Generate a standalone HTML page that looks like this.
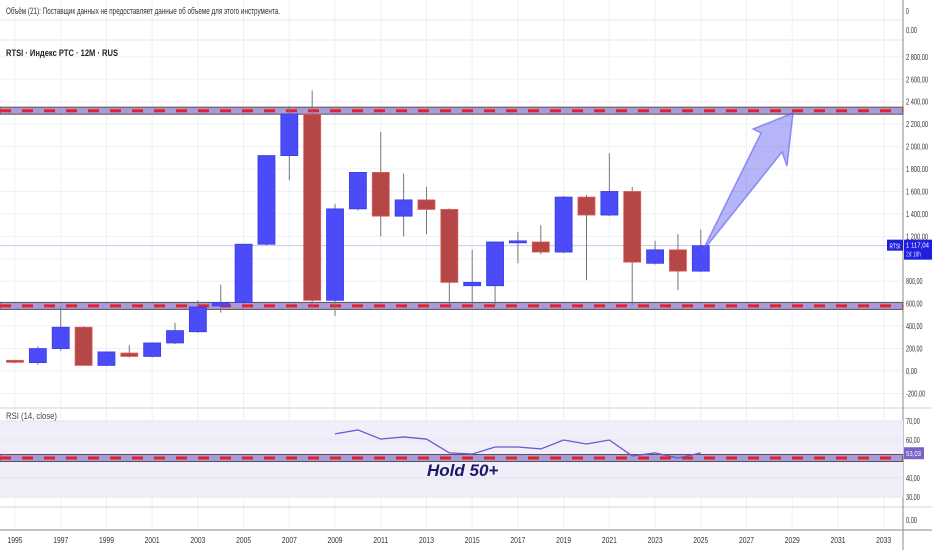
<!DOCTYPE html>
<html><head><meta charset="utf-8">
<style>
html,body{margin:0;padding:0;background:#fff;}
body{width:932px;height:550px;overflow:hidden;font-family:"Liberation Sans","DejaVu Sans",sans-serif;}
svg text{font-family:"Liberation Sans","DejaVu Sans",sans-serif;}
</style></head>
<body>
<svg id="chart" width="932" height="550" xmlns="http://www.w3.org/2000/svg">
<rect width="932" height="550" fill="#fff"/>
<g id="grid"></g>
<g id="bands"></g>
<g id="candles"></g>
<g id="rsi"></g>
<g id="axis"></g>
<text x="6" y="14" font-size="9" fill="#333" textLength="274" lengthAdjust="spacingAndGlyphs">Объём (21): Поставщик данных не предоставляет данные об объеме для этого инструмента.</text>
<text x="6" y="56" font-size="9" fill="#222" font-weight="bold" textLength="112" lengthAdjust="spacingAndGlyphs">RTSI · Индекс РТС · 12M · RUS</text>
<text x="6" y="419" font-size="9" fill="#444" textLength="51" lengthAdjust="spacingAndGlyphs">RSI (14, close)</text>
<polygon points="793,113 753,129 761,133 702,252 782,152 787,166" fill="rgba(90,90,240,0.45)" stroke="rgba(90,90,240,0.6)" stroke-width="1.5"/>
<text x="427" y="476" font-size="17" font-style="italic" font-weight="bold" fill="#1a1a66">Hold 50+</text>
</svg>
<script>
const years=[1995,1996,1997,1998,1999,2000,2001,2002,2003,2004,2005,2006,2007,2008,2009,2010,2011,2012,2013,2014,2015,2016,2017,2018,2019,2020,2021,2022,2023,2024,2025];
const opens=[95,75,200,390,50,160,130,250,350,580,610,1130,1920,2290,630,1445,1770,1380,1525,1440,760,760,1150,1150,1060,1550,1390,1600,960,1080,890];
const highs=[100,220,570,400,170,230,250,430,630,770,1130,1920,2360,2500,1490,1770,2130,1760,1640,1450,1080,1150,1240,1300,1560,1570,1940,1640,1160,1220,1260];
const lows=[70,55,180,45,45,120,120,240,340,520,600,1120,1700,560,490,1430,1200,1200,1220,580,590,590,960,1040,1050,810,1380,590,950,720,880];
const closes=[80,200,390,50,170,130,250,360,570,610,1130,1920,2290,630,1445,1770,1380,1525,1440,790,790,1150,1160,1060,1550,1390,1600,970,1080,890,1117];
const rsiYears=[2009,2010,2011,2012,2013,2014,2015,2016,2017,2018,2019,2020,2021,2022,2023,2024,2025];
const rsiValues=[63.2,65.3,60.5,61.6,60.5,53.2,52.6,56.3,56.3,55.3,60,57.9,60,51.6,53.2,50.5,53.2];
const priceTicks=[2800,2600,2400,2200,2000,1800,1600,1400,1200,1000,800,600,400,200,0,-200];
const rsiTicks=[70,60,40,30];
const xLabels=[1995,1997,1999,2001,2003,2005,2007,2009,2011,2013,2015,2017,2019,2021,2023,2025,2027,2029,2031,2033];
const levels=[2320,580];
const lastPrice=1117.04;
const rsiLast=53.03;

const NS="http://www.w3.org/2000/svg";
const X=y=>15+(y-1995)*22.86;
const Y=v=>371-v*0.1122;
const R=v=>459-(v-50)*1.9;
function mk(tag,attrs,parent,txt){const e=document.createElementNS(NS,tag);for(const k in attrs)e.setAttribute(k,attrs[k]);if(txt!==undefined)e.textContent=txt;document.getElementById(parent).appendChild(e);return e;}
function lbl(x,y,s,parent,extra){const a={x:x,y:y,'font-size':8,fill:'#333',textLength:(s.length*2.75).toFixed(1),lengthAdjust:'spacingAndGlyphs'};for(const k in (extra||{}))a[k]=extra[k];return mk('text',a,parent,s);}

xLabels.forEach(y=>{const l=mk('line',{x1:X(y),x2:X(y),y1:0,y2:530,stroke:'#eef0f4'},'grid');

});
priceTicks.forEach(v=>{const l=mk('line',{x1:0,x2:903,y1:Y(v),y2:Y(v),stroke:'#eef0f4'},'grid');

});
[20,40].forEach(y=>{mk('line',{x1:0,x2:903,y1:y,y2:y,stroke:'#e4e6ea'},'grid');});
mk('line',{x1:0,x2:932,y1:408,y2:408,stroke:'#d0d3d8'},'grid');
mk('line',{x1:0,x2:932,y1:507,y2:507,stroke:'#d0d3d8'},'grid');
mk('line',{x1:0,x2:932,y1:530,y2:530,stroke:'#888'},'grid');
mk('line',{x1:903,x2:903,y1:0,y2:550,stroke:'#888'},'grid');

const rb=mk('rect',{x:0,y:R(70),width:903,height:R(30)-R(70),fill:'#f1eefa'},'rsi');


[70,30].forEach(v=>mk('line',{x1:0,x2:903,y1:R(v),y2:R(v),stroke:'#9a9aa8','stroke-dasharray':'3,3'},'rsi'));
rsiTicks.concat([50]).forEach(v=>mk('line',{x1:0,x2:903,y1:R(v),y2:R(v),stroke:'#e6e3f2'},'rsi'));

function band(y,g,name){
 const r=mk('rect',{x:0,y:y-3.5,width:903,height:7,fill:'#a99ad8',stroke:'#555','stroke-width':1},g);
 
 
 mk('line',{x1:0,x2:903,y1:y,y2:y,stroke:'#e8202a','stroke-width':3,'stroke-dasharray':'11,11'},g);
}
levels.forEach((v,i)=>band(Y(v),'bands',i==0?'resistance-level':'support-level'));
band(R(50)-1,'rsi','rsi-50-level');

const pts=rsiYears.map((y,i)=>X(y)+','+R(rsiValues[i])).join(' ');
const pl=mk('polyline',{points:pts,fill:'none',stroke:'#6a5acd','stroke-width':1.3},'rsi');



mk('line',{x1:0,x2:903,y1:Y(lastPrice),y2:Y(lastPrice),stroke:'#c8c8f4','stroke-width':1},'candles');

years.forEach((y,i)=>{
 const up=closes[i]>=opens[i];const col=up?'#4b4bf7':'#b54747';
 const cx=X(y);
 const w=mk('line',{x1:cx,x2:cx,y1:Y(highs[i]),y2:Y(lows[i]),stroke:'#777','stroke-width':1},'candles');
 
 
 const t=Y(Math.max(opens[i],closes[i])),b=Y(Math.min(opens[i],closes[i]));
 const r=mk('rect',{x:cx-8.5,y:t,width:17,height:Math.max(2,b-t),fill:col,stroke:up?'#3a3ae8':'#e05a5a','stroke-width':0.8},'candles');
 
 
});

function fmt(v){const s=Math.abs(v).toFixed(0);const t=s.length>3?s.slice(0,-3)+' '+s.slice(-3):s;return (v<0?'-':'')+t+',00';}
priceTicks.forEach(v=>{if(v===1000)return;const t=lbl(906,Y(v)+3,fmt(v),'axis');

});
lbl(906,14,'0','axis');
lbl(906,33,'0,00','axis');
lbl(906,523,'0,00','axis');
rsiTicks.forEach(v=>{const t=lbl(906,R(v)+3,v.toFixed(2).replace('.',','),'axis');

});
xLabels.forEach(y=>{const t=lbl(X(y),543,String(y),'axis',{'text-anchor':'middle',textLength:15});

});
const yl=Y(lastPrice);
mk('rect',{x:887,y:yl-6,width:16,height:11,fill:'#1f1fe0'},'axis');
mk('text',{x:895,y:yl+3,'font-size':7,fill:'#fff','text-anchor':'middle',textLength:11,lengthAdjust:'spacingAndGlyphs'},'axis','RTSI');
const pb=mk('rect',{x:904,y:yl-6,width:28,height:20,fill:'#1f1fe0'},'axis');


mk('text',{x:906,y:yl+2,'font-size':7.5,fill:'#fff',textLength:23,lengthAdjust:'spacingAndGlyphs'},'axis','1 117,04');
mk('text',{x:906,y:yl+11,'font-size':7,fill:'#dde',textLength:15,lengthAdjust:'spacingAndGlyphs'},'axis','2d 18h');
const ry=R(rsiLast);
const rl=mk('rect',{x:904,y:ry-6,width:20,height:12,fill:'#7b62c9'},'axis');


mk('text',{x:906,y:ry+3,'font-size':7.5,fill:'#fff',textLength:15,lengthAdjust:'spacingAndGlyphs'},'axis','53,03');
</script>
</body></html>
